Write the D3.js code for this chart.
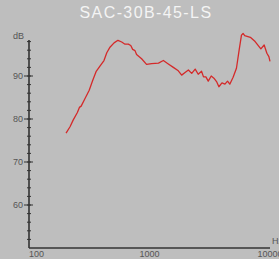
<!DOCTYPE html>
<html>
<head>
<meta charset="utf-8">
<script src="https://cdn.jsdelivr.net/npm/d3@7"></script>
<style>
  html, body { margin: 0; padding: 0; background: #bebebe; overflow: hidden; }
  svg { display: block; }
</style>
</head>
<body>
<svg id="chart"></svg>
<script>
const title = "SAC-30B-45-LS";

// frequency (Hz) and level (dB)
const freqs = [203, 219, 233, 252, 262, 271, 291, 316, 337, 360, 388, 419, 442, 470, 508, 547,
  588, 626, 667, 699, 725, 758, 781, 860, 945, 1042, 1187, 1303, 1432, 1577, 1734, 1849,
  1973, 2102, 2240, 2394, 2536, 2703, 2807, 2937, 3073, 3253, 3423, 3601, 3766, 3993, 4226,
  4442, 4637, 4941, 5268, 5544, 5797, 5980, 6163, 6868, 7526, 8397, 8943, 9422, 9787, 10000];
const levels = [76.7, 78.2, 79.8, 81.5, 82.7, 83.0, 84.7, 86.7, 88.9, 91.0, 92.3, 93.6, 95.4, 96.7, 97.7, 98.3,
  97.9, 97.4, 97.4, 97.1, 96.2, 95.9, 95.0, 94.0, 92.7, 92.9, 93.0, 93.6, 92.8, 92.0, 91.2, 90.2,
  90.8, 91.4, 90.6, 91.6, 90.4, 91.1, 89.8, 89.8, 88.8, 90.0, 89.5, 88.7, 87.5, 88.4, 88.1,
  88.8, 88.1, 89.7, 91.8, 96.0, 99.5, 99.9, 99.4, 99.0, 98.0, 96.3, 97.2, 95.3, 94.5, 93.4];

const yMajor = [60, 70, 80, 90];
const yMinor = d3.range(52, 99, 2);
const xLabels = [100, 1000, 10000];

const width = 279;
const height = 259;

const svg = d3.select("#chart")
  .attr("width", width)
  .attr("height", height);

const x = d3.scaleLog()
  .domain([100, 10000])
  .range([29, 270]);

const y = d3.scaleLinear()
  .domain([50, 100])
  .range([248, 33]);

const font = "'Liberation Sans', Arial, sans-serif";

// title
svg.append("text")
  .attr("x", 146)
  .attr("y", 18)
  .attr("text-anchor", "middle")
  .attr("fill", "#f4f4f4")
  .attr("font-family", font)
  .attr("font-size", 16)
  .attr("letter-spacing", 1.4)
  .text(title);

// minor ticks on y
svg.append("g")
  .selectAll("line")
  .data(yMinor)
  .enter()
  .append("line")
  .attr("x1", x(100) - 2)
  .attr("x2", x(100) + 2)
  .attr("y1", d => y(d))
  .attr("y2", d => y(d))
  .attr("stroke", "#333")
  .attr("stroke-width", 1);

// major ticks on y
svg.append("g")
  .selectAll("line")
  .data(yMajor)
  .enter()
  .append("line")
  .attr("x1", x(100) - 5)
  .attr("x2", x(100) + 4)
  .attr("y1", d => y(d))
  .attr("y2", d => y(d))
  .attr("stroke", "#333")
  .attr("stroke-width", 1);

svg.append("g")
  .selectAll("text")
  .data(yMajor)
  .enter()
  .append("text")
  .attr("x", x(100) - 6)
  .attr("y", d => y(d) + 3)
  .attr("text-anchor", "end")
  .attr("fill", "#555")
  .attr("font-family", font)
  .attr("font-size", 9)
  .text(d => d);

// axis lines
svg.append("line")
  .attr("x1", x(100)).attr("x2", x(100))
  .attr("y1", y(50)).attr("y2", 40)
  .attr("stroke", "#333")
  .attr("stroke-width", 1.6);

svg.append("line")
  .attr("x1", x(100)).attr("x2", x(10000))
  .attr("y1", y(50)).attr("y2", y(50))
  .attr("stroke", "#333")
  .attr("stroke-width", 1.6);

// x labels
svg.append("g")
  .selectAll("text")
  .data(xLabels)
  .enter()
  .append("text")
  .attr("x", d => x(d))
  .attr("y", 257)
  .attr("text-anchor", d => d === 100 ? "start" : "middle")
  .attr("fill", "#555")
  .attr("font-family", font)
  .attr("font-size", 9)
  .text(d => d);

// unit labels
svg.append("text")
  .attr("x", 13)
  .attr("y", 39)
  .attr("fill", "#555")
  .attr("font-family", font)
  .attr("font-size", 9)
  .text("dB");

svg.append("text")
  .attr("x", 272)
  .attr("y", 244)
  .attr("fill", "#555")
  .attr("font-family", font)
  .attr("font-size", 9)
  .text("Hz");

// response curve
const line = d3.line()
  .x((d, i) => x(freqs[i]))
  .y(d => y(d));

svg.append("path")
  .datum(levels)
  .attr("fill", "none")
  .attr("stroke", "#d42a2a")
  .attr("stroke-width", 1.3)
  .attr("stroke-linejoin", "round")
  .attr("d", line);
</script>
</body>
</html>
